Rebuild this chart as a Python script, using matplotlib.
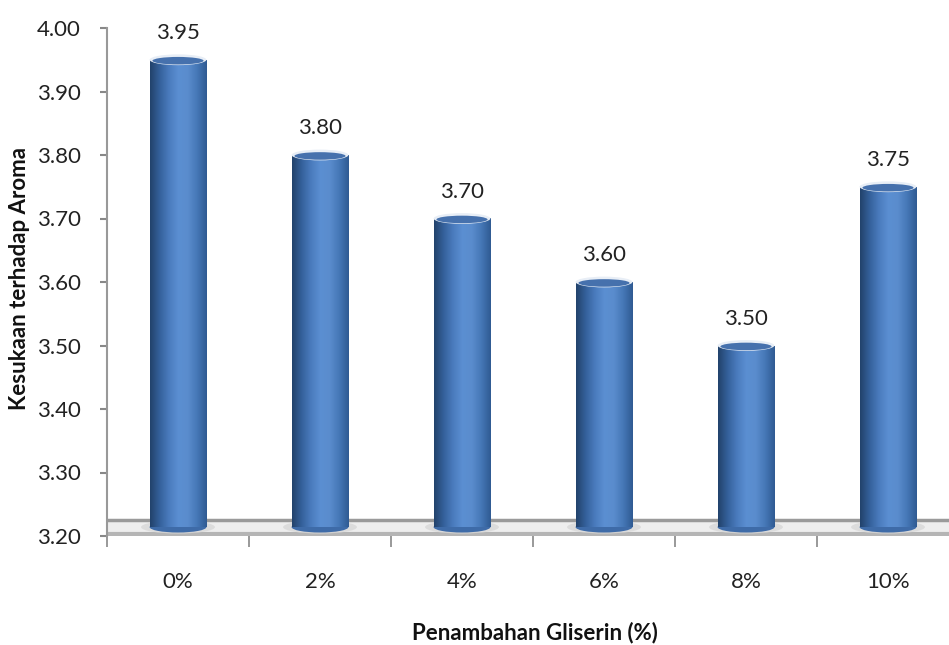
import numpy as np
import matplotlib
matplotlib.use("Agg")
import matplotlib.pyplot as plt
from matplotlib.patches import Ellipse, Rectangle, Polygon
from matplotlib.colors import LinearSegmentedColormap

categories = ["0%", "2%", "4%", "6%", "8%", "10%"]
values = [3.95, 3.80, 3.70, 3.60, 3.50, 3.75]
value_labels = ["3.95", "3.80", "3.70", "3.60", "3.50", "3.75"]
yticks = [3.20, 3.30, 3.40, 3.50, 3.60, 3.70, 3.80, 3.90, 4.00]

plt.rcParams['font.family'] = ['Lato', 'DejaVu Sans']

W, H = 949, 645
fig = plt.figure(figsize=(W / 100, H / 100), dpi=100)
left_px, right_px, top_px, bottom_px = 107, 959, 28, 536
ax = fig.add_axes([left_px / W, (H - bottom_px) / H,
                   (right_px - left_px) / W, (bottom_px - top_px) / H])
ymin, ymax = 3.20, 4.00
ax.set_xlim(-0.5, len(categories) - 0.5)
ax.set_ylim(ymin, ymax)

# floor
floor_top = 3.225
floor = Polygon([(-0.5, ymin), (len(categories) - 0.5, ymin),
                 (len(categories) - 0.5, floor_top), (-0.5, floor_top)],
                closed=True, facecolor="#eeeeee", edgecolor="none", zorder=1)
ax.add_patch(floor)
ax.plot([-0.5, len(categories) - 0.5], [floor_top, floor_top], color="#9a9a9a", lw=2.5, zorder=1.5)
ax.plot([-0.5, len(categories) - 0.5], [ymin + 0.003, ymin + 0.003], color="#b5b5b5", lw=3, zorder=1.5)

cmap = LinearSegmentedColormap.from_list(
    "cyl", ["#22426b", "#34609a", "#4a7bbd", "#5b8fd2", "#5a8ccd", "#4577b6", "#2f5a92"])
grad = np.linspace(0, 1, 256).reshape(1, -1)

bw = 0.40
base = 3.214
cap_h = 0.017
for i, v in enumerate(values):
    x0 = i - bw / 2
    ax.add_patch(Ellipse((i, base), bw * 1.3, cap_h * 1.2, facecolor="#d8d8d8",
                         edgecolor="none", alpha=0.8, zorder=2))
    rect = Rectangle((x0, base), bw, v - base, facecolor="none", edgecolor="none", zorder=3)
    ax.add_patch(rect)
    im = ax.imshow(grad, cmap=cmap, extent=[x0, x0 + bw, base, v], aspect="auto",
                   interpolation="bilinear", zorder=3)
    im.set_clip_path(rect)
    ax.add_patch(Ellipse((i, base), bw, cap_h, facecolor="#3e6ba8", edgecolor="none", zorder=2.9))
    ax.add_patch(Ellipse((i, v), bw, cap_h, facecolor="#e8eef6", edgecolor="none", zorder=4))
    ax.add_patch(Ellipse((i, v - 0.0015), bw * 0.9, cap_h * 0.7, facecolor="#4671ad",
                         edgecolor="none", zorder=4.1))
    ax.text(i, v + 0.026, value_labels[i], ha="center", va="bottom", fontsize=16, color="#222222")

ax.set_yticks(yticks)
ax.set_yticklabels([f"{t:.2f}" for t in yticks], fontsize=16, color="#222222")
ax.set_xticks(range(len(categories)))
ax.set_xticklabels(categories, fontsize=16, color="#222222")
ax.set_xticks(np.arange(-0.5, len(categories)), minor=True)
ax.tick_params(axis="x", which="major", length=0, pad=26)
ax.tick_params(axis="x", which="minor", length=8, color="#888888", width=1.2, direction="out")
ax.tick_params(axis="y", length=5, color="#888888", width=1.5, pad=14)

for s in ["top", "right", "bottom"]:
    ax.spines[s].set_visible(False)
ax.spines["left"].set_color("#999999")
ax.spines["left"].set_linewidth(1.5)

fig.text(20 / W, 1 - 278 / H, "Kesukaan terhadap Aroma", ha="center", va="center", rotation=90,
         fontsize=16, fontweight="bold", color="#111111")
fig.text(535 / W, 1 - 633 / H, "Penambahan Gliserin (%)", ha="center", va="center",
         fontsize=16, fontweight="bold", color="#111111")

fig.savefig("out.png", dpi=100, facecolor="white")
